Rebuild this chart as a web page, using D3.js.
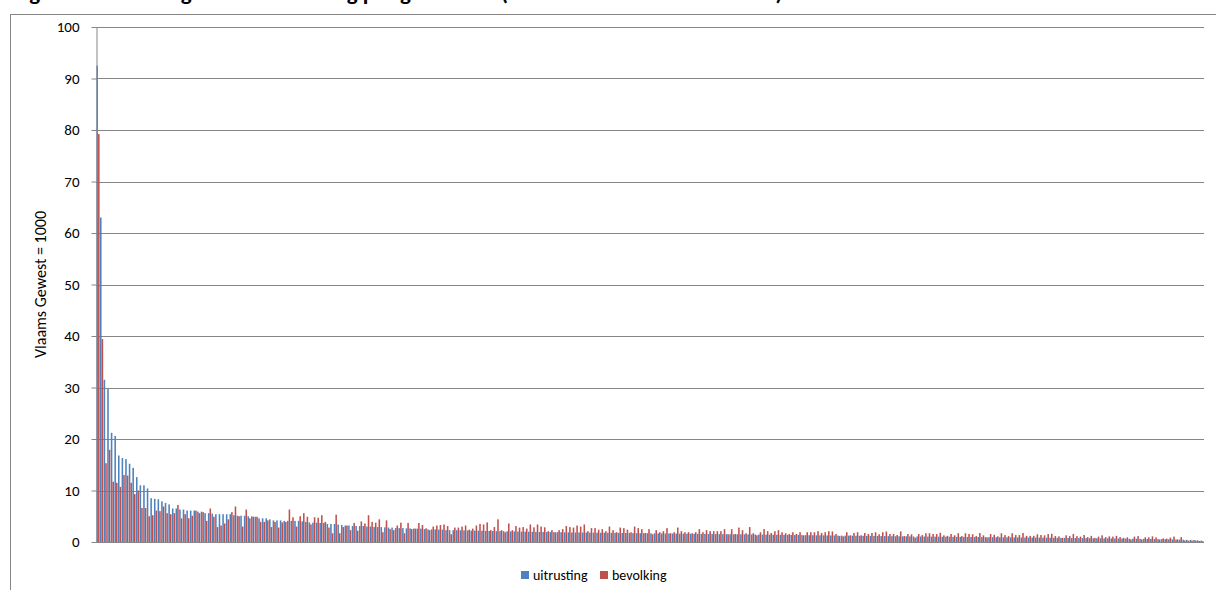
<!DOCTYPE html>
<html>
<head>
<meta charset="utf-8">
<script src="https://cdn.jsdelivr.net/npm/d3@7"></script>
<style>
    html, body { margin: 0; padding: 0; background: #fff; }
    svg { display: block; font-family: Carlito, "Liberation Sans", Arial, sans-serif; }
</style>
</head>
<body>
<div id="chart"></div>
<script>
// Index per gemeente (Vlaams Gewest = 1000), gemeenten gerangschikt volgens uitrusting
const uitrusting = [
    92.5, 63.0, 31.5, 29.7, 21.2, 20.6, 16.8, 16.3, 16.1, 15.2,
    14.4, 12.6, 11.0, 11.0, 10.4, 8.5, 8.4, 8.3, 7.9, 7.6,
    7.3, 6.5, 6.5, 6.3, 6.3, 6.1, 6.1, 6.1, 5.9, 5.9,
    5.6, 5.6, 5.5, 5.4, 5.4, 5.4, 5.4, 5.4, 5.2, 5.1,
    5.1, 5.1, 5.0, 5.0, 4.9, 4.6, 4.6, 4.6, 4.4, 4.2,
    4.2, 4.2, 4.1, 4.1, 4.1, 4.1, 4.1, 4.0, 3.9, 3.8,
    3.75, 3.75, 3.7, 3.7, 3.5, 3.5, 3.5, 3.4, 3.3, 3.2,
    3.2, 3.1, 3.1, 3.1, 3.1, 3.0, 3.0, 2.9, 2.9, 2.9,
    2.85, 2.8, 2.8, 2.7, 2.7, 2.7, 2.65, 2.65, 2.6, 2.6,
    2.6, 2.5, 2.45, 2.45, 2.45, 2.4, 2.4, 2.3, 2.3, 2.3,
    2.3, 2.28, 2.25, 2.25, 2.22, 2.2, 2.2, 2.18, 2.15, 2.15,
    2.12, 2.1, 2.1, 2.1, 2.08, 2.05, 2.05, 2.03, 2.0, 2.0,
    2.0, 1.98, 1.97, 1.95, 1.95, 1.93, 1.92, 1.9, 1.9, 1.9,
    1.88, 1.87, 1.86, 1.85, 1.85, 1.84, 1.83, 1.82, 1.82, 1.81,
    1.8, 1.8, 1.79, 1.78, 1.77, 1.76, 1.75, 1.75, 1.74, 1.73,
    1.72, 1.71, 1.7, 1.7, 1.69, 1.68, 1.67, 1.66, 1.65, 1.65,
    1.64, 1.63, 1.62, 1.61, 1.6, 1.6, 1.59, 1.58, 1.57, 1.56,
    1.55, 1.55, 1.54, 1.53, 1.52, 1.52, 1.51, 1.5, 1.5, 1.49,
    1.48, 1.47, 1.46, 1.45, 1.44, 1.43, 1.42, 1.41, 1.4, 1.4,
    1.39, 1.38, 1.37, 1.36, 1.35, 1.35, 1.34, 1.33, 1.32, 1.31,
    1.3, 1.3, 1.29, 1.28, 1.27, 1.26, 1.25, 1.25, 1.24, 1.23,
    1.22, 1.21, 1.2, 1.2, 1.19, 1.18, 1.17, 1.16, 1.15, 1.15,
    1.14, 1.13, 1.12, 1.11, 1.1, 1.1, 1.09, 1.08, 1.07, 1.07,
    1.06, 1.05, 1.05, 1.04, 1.03, 1.02, 1.02, 1.01, 1.0, 1.0,
    0.99, 0.98, 0.98, 0.97, 0.96, 0.96, 0.95, 0.94, 0.94, 0.93,
    0.92, 0.92, 0.91, 0.9, 0.9, 0.89, 0.88, 0.88, 0.87, 0.86,
    0.86, 0.85, 0.85, 0.84, 0.83, 0.83, 0.82, 0.81, 0.8, 0.8,
    0.79, 0.78, 0.77, 0.76, 0.75, 0.75, 0.74, 0.73, 0.72, 0.71,
    0.7, 0.7, 0.69, 0.68, 0.67, 0.66, 0.65, 0.64, 0.63, 0.62,
    0.61, 0.6, 0.59, 0.58, 0.57, 0.56, 0.55, 0.54, 0.52, 0.5,
    0.48, 0.46, 0.44, 0.42, 0.4, 0.37, 0.33, 0.28
];

const bevolking = [
    79.2, 39.4, 15.3, 17.9, 11.7, 11.5, 10.7, 13.0, 12.9, 11.5,
    9.3, 10.0, 6.6, 6.6, 5.0, 5.2, 6.1, 6.0, 6.9, 5.6,
    5.4, 5.6, 7.2, 4.6, 5.4, 4.6, 5.1, 6.1, 5.6, 5.8,
    4.1, 6.5, 4.9, 2.9, 3.2, 3.6, 4.4, 5.8, 6.9, 5.0,
    3.0, 6.3, 4.6, 4.9, 4.9, 3.9, 3.9, 4.2, 2.9, 3.9,
    2.8, 3.8, 3.9, 6.3, 4.8, 3.0, 5.0, 5.6, 4.9, 3.4,
    4.8, 4.7, 5.2, 3.9, 2.8, 1.7, 5.3, 1.7, 2.9, 3.2,
    2.3, 3.7, 2.2, 4.0, 3.6, 5.2, 3.9, 3.75, 4.4, 1.9,
    4.2, 2.5, 2.3, 3.2, 3.75, 1.7, 3.7, 2.5, 2.6, 3.7,
    3.3, 2.65, 2.3, 3.0, 3.2, 3.3, 3.4, 3.1, 1.5, 2.8,
    2.8, 3.0, 3.2, 2.4, 2.6, 3.2, 3.5, 3.4, 3.8, 2.3,
    2.9, 4.4, 2.3, 1.9, 3.6, 2.3, 3.1, 2.8, 2.9, 2.6,
    3.4, 2.85, 3.4, 3.0, 2.85, 2.1, 2.3, 1.9, 2.3, 2.5,
    3.1, 2.9, 2.8, 3.2, 3.0, 3.4, 2.1, 2.7, 2.7, 2.4,
    2.5, 2.1, 3.0, 2.3, 1.9, 2.8, 2.7, 2.4, 1.9, 3.0,
    2.7, 2.5, 1.75, 2.5, 1.5, 2.3, 1.9, 2.1, 2.7, 1.7,
    1.9, 2.8, 2.1, 1.9, 1.9, 1.7, 1.9, 2.5, 1.9, 2.3,
    2.1, 2.1, 2.1, 2.1, 2.5, 1.5, 2.5, 1.55, 2.8, 2.3,
    1.7, 2.9, 1.7, 1.3, 1.9, 2.5, 2.1, 1.75, 2.1, 2.3,
    1.9, 1.7, 1.55, 1.9, 1.55, 1.9, 1.3, 1.9, 1.9, 1.9,
    2.1, 1.75, 1.9, 2.1, 2.05, 1.55, 1.15, 1.1, 1.9, 1.3,
    1.75, 1.9, 1.3, 1.75, 1.55, 1.75, 1.9, 1.5, 1.9, 2.05,
    1.55, 1.55, 1.35, 2.05, 1.15, 1.55, 1.5, 0.85, 1.55, 1.35,
    1.7, 1.7, 1.55, 1.55, 1.8, 1.3, 1.2, 1.55, 1.3, 1.7,
    1.15, 1.7, 1.55, 1.5, 1.15, 1.75, 1.3, 0.9, 1.55, 1.4,
    1.1, 1.7, 1.35, 1.15, 1.7, 1.35, 1.35, 1.75, 1.2, 1.2,
    1.2, 1.5, 1.35, 1.3, 1.55, 1.6, 1.15, 1.1, 0.8, 1.3,
    1.15, 1.55, 1.15, 1.05, 1.35, 0.95, 1.2, 0.8, 1.05, 1.3,
    0.95, 1.1, 1.05, 1.2, 0.95, 0.8, 0.9, 0.5, 1.05, 1.15,
    0.5, 0.9, 0.9, 1.1, 0.9, 0.5, 0.7, 0.65, 0.85, 1.05,
    0.5, 0.95, 0.3, 0.25, 0.3, 0.3, 0.2, 0.15
];

// gemeenten (rangnummer), no labels are shown on the category axis
const gemeenten = uitrusting.map((d, i) => String(i + 1));
const seriesNames = ["uitrusting", "bevolking"];
const seriesColours = ["#4F81BD", "#C0504D"];
const yTicks = [0, 10, 20, 30, 40, 50, 60, 70, 80, 90, 100];

const titleText = "Figuur 1: Verdeling van de uitrusting per gemeente (t.o.v. Vlaams Gewest = 1000)";
const yAxisTitle = "Vlaams Gewest = 1000";

const width = 1216;
const height = 590;
const plot = { left: 96, right: 1204, top: 27, bottom: 542 };
const gridColour = "#868686";

const svg = d3.select("#chart").append("svg")
    .attr("width", width)
    .attr("height", height)

// outer chart frame (right and bottom edges fall outside the picture)
svg.append("rect")
    .attr("x", 10.5)
    .attr("y", 14.5)
    .attr("width", 1230)
    .attr("height", 600)
    .attr("fill", "none")
    .attr("stroke", gridColour)

// title, mostly cut off above the picture (as in the original)
svg.append("text")
    .attr("x", 13)
    .attr("y", -0.5)
    .attr("font-size", "23px")
    .attr("font-weight", "bold")
    .text(titleText)

const y = d3.scaleLinear()
    .domain([0, 100])
    .range([plot.bottom, plot.top])

const x = d3.scaleBand()
    .domain(gemeenten)
    .range([plot.left, plot.right])
    .paddingInner(0.08)
    .paddingOuter(0.1)

const xSeries = d3.scaleBand()
    .domain(seriesNames)
    .range([0, x.bandwidth()])
    .padding(0.04)

// Gridlines
svg.append("g")
    .selectAll("line")
    .data(yTicks.filter(d => d > 0))
    .join("line")
    .attr("x1", plot.left)
    .attr("x2", plot.right)
    .attr("y1", d => Math.round(y(d)) + 0.5)
    .attr("y2", d => Math.round(y(d)) + 0.5)
    .attr("stroke", gridColour)
    .attr("stroke-width", 1)

// Bars
const rows = gemeenten.map((g, i) => ({ g: g, values: [uitrusting[i], bevolking[i]] }))
svg.append("g")
    .selectAll("g")
    .data(rows)
    .join("g")
    .attr("transform", d => `translate(${x(d.g)},0)`)
    .selectAll("rect")
    .data(d => d.values.map((v, k) => ({ name: seriesNames[k], value: v, colour: seriesColours[k] })))
    .join("rect")
    .attr("x", d => xSeries(d.name))
    .attr("width", xSeries.bandwidth())
    .attr("y", d => y(d.value))
    .attr("height", d => y(0) - y(d.value))
    .attr("fill", d => d.colour)

// Y axis
const yAxis = svg.append("g")
    .attr("transform", `translate(${plot.left + 0.5},0)`)
    .call(d3.axisLeft(y).tickValues(yTicks).tickSize(5).tickPadding(12).tickSizeOuter(0))
yAxis.select(".domain").attr("stroke", gridColour)
yAxis.selectAll(".tick line").attr("stroke", gridColour)
yAxis.selectAll(".tick text")
    .attr("font-size", "15px")
    .attr("font-family", "Carlito, 'Liberation Sans', Arial, sans-serif")
    .attr("fill", "#000")

// X axis baseline
svg.append("line")
    .attr("x1", plot.left)
    .attr("x2", plot.right)
    .attr("y1", Math.round(y(0)) + 0.5)
    .attr("y2", Math.round(y(0)) + 0.5)
    .attr("stroke", gridColour)

// Y axis title
svg.append("text")
    .attr("transform", `translate(46, ${(plot.top + plot.bottom) / 2}) rotate(-90)`)
    .attr("text-anchor", "middle")
    .attr("font-size", "16px")
    .text(yAxisTitle)

// Legend
const legendX = [521, 600];
const legend = svg.append("g")
    .selectAll("g")
    .data(seriesNames)
    .join("g")
    .attr("transform", (d, i) => `translate(${legendX[i]}, 571)`)
legend.append("rect")
    .attr("width", 8)
    .attr("height", 8)
    .attr("fill", (d, i) => seriesColours[i])
legend.append("text")
    .attr("x", 12)
    .attr("y", 9)
    .attr("font-size", "14px")
    .text(d => d)
</script>
</body>
</html>
